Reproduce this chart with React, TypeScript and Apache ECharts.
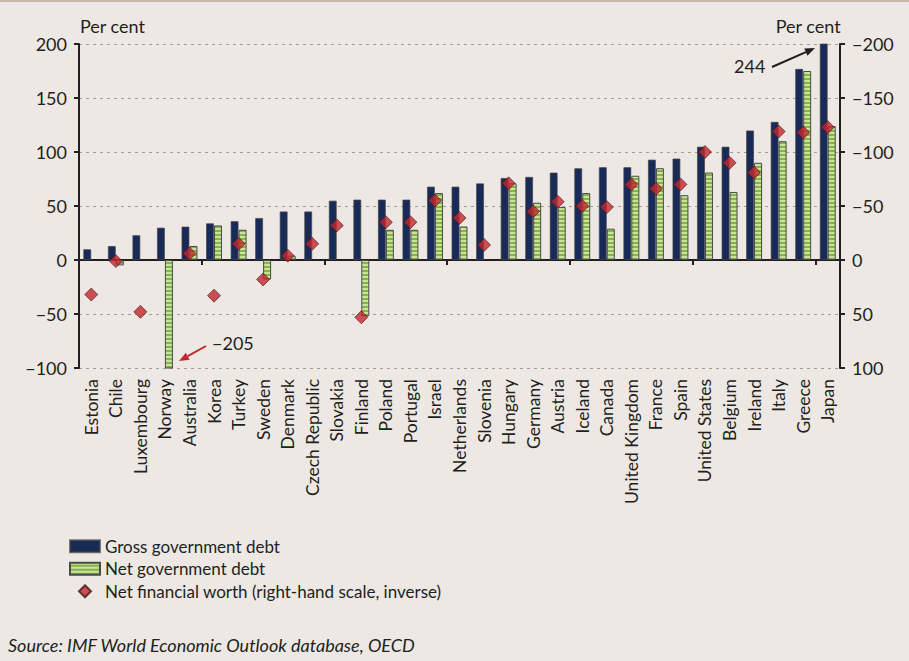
import React, { useEffect, useRef } from "react";
import * as echarts from "echarts";

const countries = [
  "Estonia", "Chile", "Luxembourg", "Norway", "Australia", "Korea", "Turkey", "Sweden",
  "Denmark", "Czech Republic", "Slovakia", "Finland", "Poland", "Portugal", "Israel",
  "Netherlands", "Slovenia", "Hungary", "Germany", "Austria", "Iceland", "Canada",
  "United Kingdom", "France", "Spain", "United States", "Belgium", "Ireland", "Italy",
  "Greece", "Japan",
];

const grossDebt = [
  10, 13, 23, 30, 31, 34, 36, 39, 45, 45, 55, 56, 56, 56, 68, 68, 71, 76, 77, 81, 85, 86,
  86, 93, 94, 105, 105, 120, 128, 177, 244,
];

const netDebt = [
  null, -5, null, -205, 13, 32, 28, -18, 4, null, null, -52, 28, 28, 62, 31, null, 71, 53,
  49, 62, 29, 78, 85, 60, 81, 63, 90, 110, 175, 124,
];

// Net financial worth on the right-hand (inverse) scale
const netWorth = [
  32, 1, 48, null, -6, 33, -15, 18, -4, -15, -32, 53, -35, -35, -55, -39, -14, -71, -45,
  -54, -50, -49, -70, -66, -70, -100, -90, -81, -119, -118, -123,
];

const leftTicks = { min: -100, max: 200, interval: 50 };
const rightTicks = { min: -200, max: 100, interval: 50 };

const FONT = "Lato, 'Open Sans', sans-serif";
const TXT = "#231f20";

const stripeSvg =
  "<svg xmlns='http://www.w3.org/2000/svg' width='8' height='4'>" +
  "<rect width='8' height='2' fill='#c9e29c'/>" +
  "<rect y='2' width='8' height='2' fill='#86b249'/></svg>";
const stripeUrl = "data:image/svg+xml;charset=utf-8," + encodeURIComponent(stripeSvg);

const minus = (v: number) => String(v).replace("-", "\u2212");

export default function App() {
  const ref = useRef<HTMLDivElement>(null);

  useEffect(() => {
    if (!ref.current) return;
    const chart = echarts.init(ref.current, undefined, { renderer: "svg" });
    const stripe = { image: stripeUrl, repeat: "repeat" } as any;

    const arrow = (x1: number, y1: number, x2: number, y2: number, color: string) => {
      const dx = x2 - x1, dy = y2 - y1;
      const len = Math.sqrt(dx * dx + dy * dy);
      const ux = dx / len, uy = dy / len;
      const hl = 10, hw = 4;
      const bx = x2 - ux * hl, by = y2 - uy * hl;
      const nx = -uy, ny = ux;
      return [
        { type: "line", shape: { x1, y1, x2: bx, y2: by }, style: { stroke: color, lineWidth: 2 } },
        {
          type: "polygon",
          shape: { points: [[x2, y2], [bx + nx * hw, by + ny * hw], [bx - nx * hw, by - ny * hw]] },
          style: { fill: color },
        },
      ];
    };

    chart.setOption({
      animation: false,
      backgroundColor: "#ede8e4",
      textStyle: { fontFamily: FONT, color: TXT },
      grid: { left: 79, right: 69, top: 44, bottom: 293, containLabel: false },
      legend: {
        orient: "vertical",
        left: 69,
        top: 536,
        padding: 0,
        itemWidth: 30,
        itemHeight: 12,
        itemGap: 2,
        symbolKeepAspect: true,
        textStyle: { fontFamily: FONT, fontSize: 17, color: TXT, lineHeight: 20.5 },
        data: [
          { name: "Gross government debt", icon: "rect" },
          { name: "Net government debt", icon: "rect" },
          {
            name: "Net financial worth (right-hand scale, inverse)",
            icon: "path://M6,0 L12,6 L6,12 L0,6 Z",
            symbolKeepAspect: true,
          },
        ],
      },
      xAxis: [
        {
          type: "category",
          data: countries,
          position: "bottom",
          axisLine: { show: false, onZero: false },
          axisTick: { show: false },
          axisLabel: {
            rotate: 90,
            interval: 0,
            margin: 11,
            fontSize: 17.5,
            fontFamily: FONT,
            color: TXT,
          },
        },
        {
          type: "category",
          data: countries,
          position: "bottom",
          axisLine: { show: true, onZero: true, onZeroAxisIndex: 0, lineStyle: { color: TXT, width: 2 } },
          axisTick: { show: true, length: 5, lineStyle: { color: TXT, width: 2 } },
          axisLabel: { show: false },
        },
      ],
      yAxis: [
        {
          type: "value",
          ...leftTicks,
          position: "left",
          axisLine: { show: true, onZero: false, lineStyle: { color: TXT, width: 2 } },
          axisTick: { show: true, length: 5, lineStyle: { color: TXT, width: 2 } },
          axisLabel: { margin: 12, fontSize: 18, color: TXT, fontFamily: FONT, formatter: minus },
          splitLine: { show: true, lineStyle: { color: "#a09d9a", width: 1, type: [3, 4] } },
        },
        {
          type: "value",
          ...rightTicks,
          inverse: true,
          position: "right",
          axisLine: { show: true, onZero: false, lineStyle: { color: TXT, width: 2 } },
          axisTick: { show: true, length: 5, lineStyle: { color: TXT, width: 2 } },
          axisLabel: { margin: 12, fontSize: 18, color: TXT, fontFamily: FONT, formatter: minus },
          splitLine: { show: false },
        },
      ],
      series: [
        {
          name: "Gross government debt",
          type: "bar",
          xAxisIndex: 0,
          yAxisIndex: 0,
          data: grossDebt,
          barWidth: 8,
          barGap: "0%",
          itemStyle: { color: "#172a58", borderColor: "rgba(70,70,70,0.7)", borderWidth: 1 },
        },
        {
          name: "Net government debt",
          type: "bar",
          xAxisIndex: 0,
          yAxisIndex: 0,
          data: netDebt,
          barWidth: 8,
          barGap: "0%",
          itemStyle: { color: stripe, borderColor: "#4a4a4a", borderWidth: 1 },
        },
        {
          name: "Net financial worth (right-hand scale, inverse)",
          type: "scatter",
          xAxisIndex: 0,
          yAxisIndex: 1,
          data: netWorth,
          symbol: "diamond",
          symbolSize: 13,
          z: 5,
          itemStyle: { color: "#c1272d", borderColor: "#4a1414", borderWidth: 0.8 },
        },
      ],
      graphic: [
        { type: "rect", shape: { x: 0, y: 0, width: 909, height: 2 }, style: { fill: "#c9b9a8" } },
        {
          type: "text",
          left: 80,
          top: 17,
          style: { text: "Per cent", fontSize: 18, fontFamily: FONT, fill: TXT },
        },
        {
          type: "text",
          right: 68,
          top: 17,
          style: { text: "Per cent", fontSize: 18, fontFamily: FONT, fill: TXT },
        },
        {
          type: "text",
          left: 212,
          top: 334,
          style: { text: "\u2212205", fontSize: 18, fontFamily: FONT, fill: TXT },
        },
        {
          type: "text",
          left: 734,
          top: 57,
          style: { text: "244", fontSize: 18, fontFamily: FONT, fill: TXT },
        },
        ...arrow(206, 346, 179, 361, "#c1272d"),
        ...arrow(772, 67, 815, 48, "#231f20"),
        {
          type: "text",
          left: 8,
          top: 636,
          style: {
            text: "Source: IMF World Economic Outlook database, OECD",
            fontSize: 18,
            fontStyle: "italic",
            fontFamily: FONT,
            fill: TXT,
          },
        },
      ],
    });
    return () => chart.dispose();
  }, []);

  return (
    <div
      ref={ref}
      style={{ position: "fixed", left: 0, top: 0, width: 909, height: 661 }}
    />
  );
}
